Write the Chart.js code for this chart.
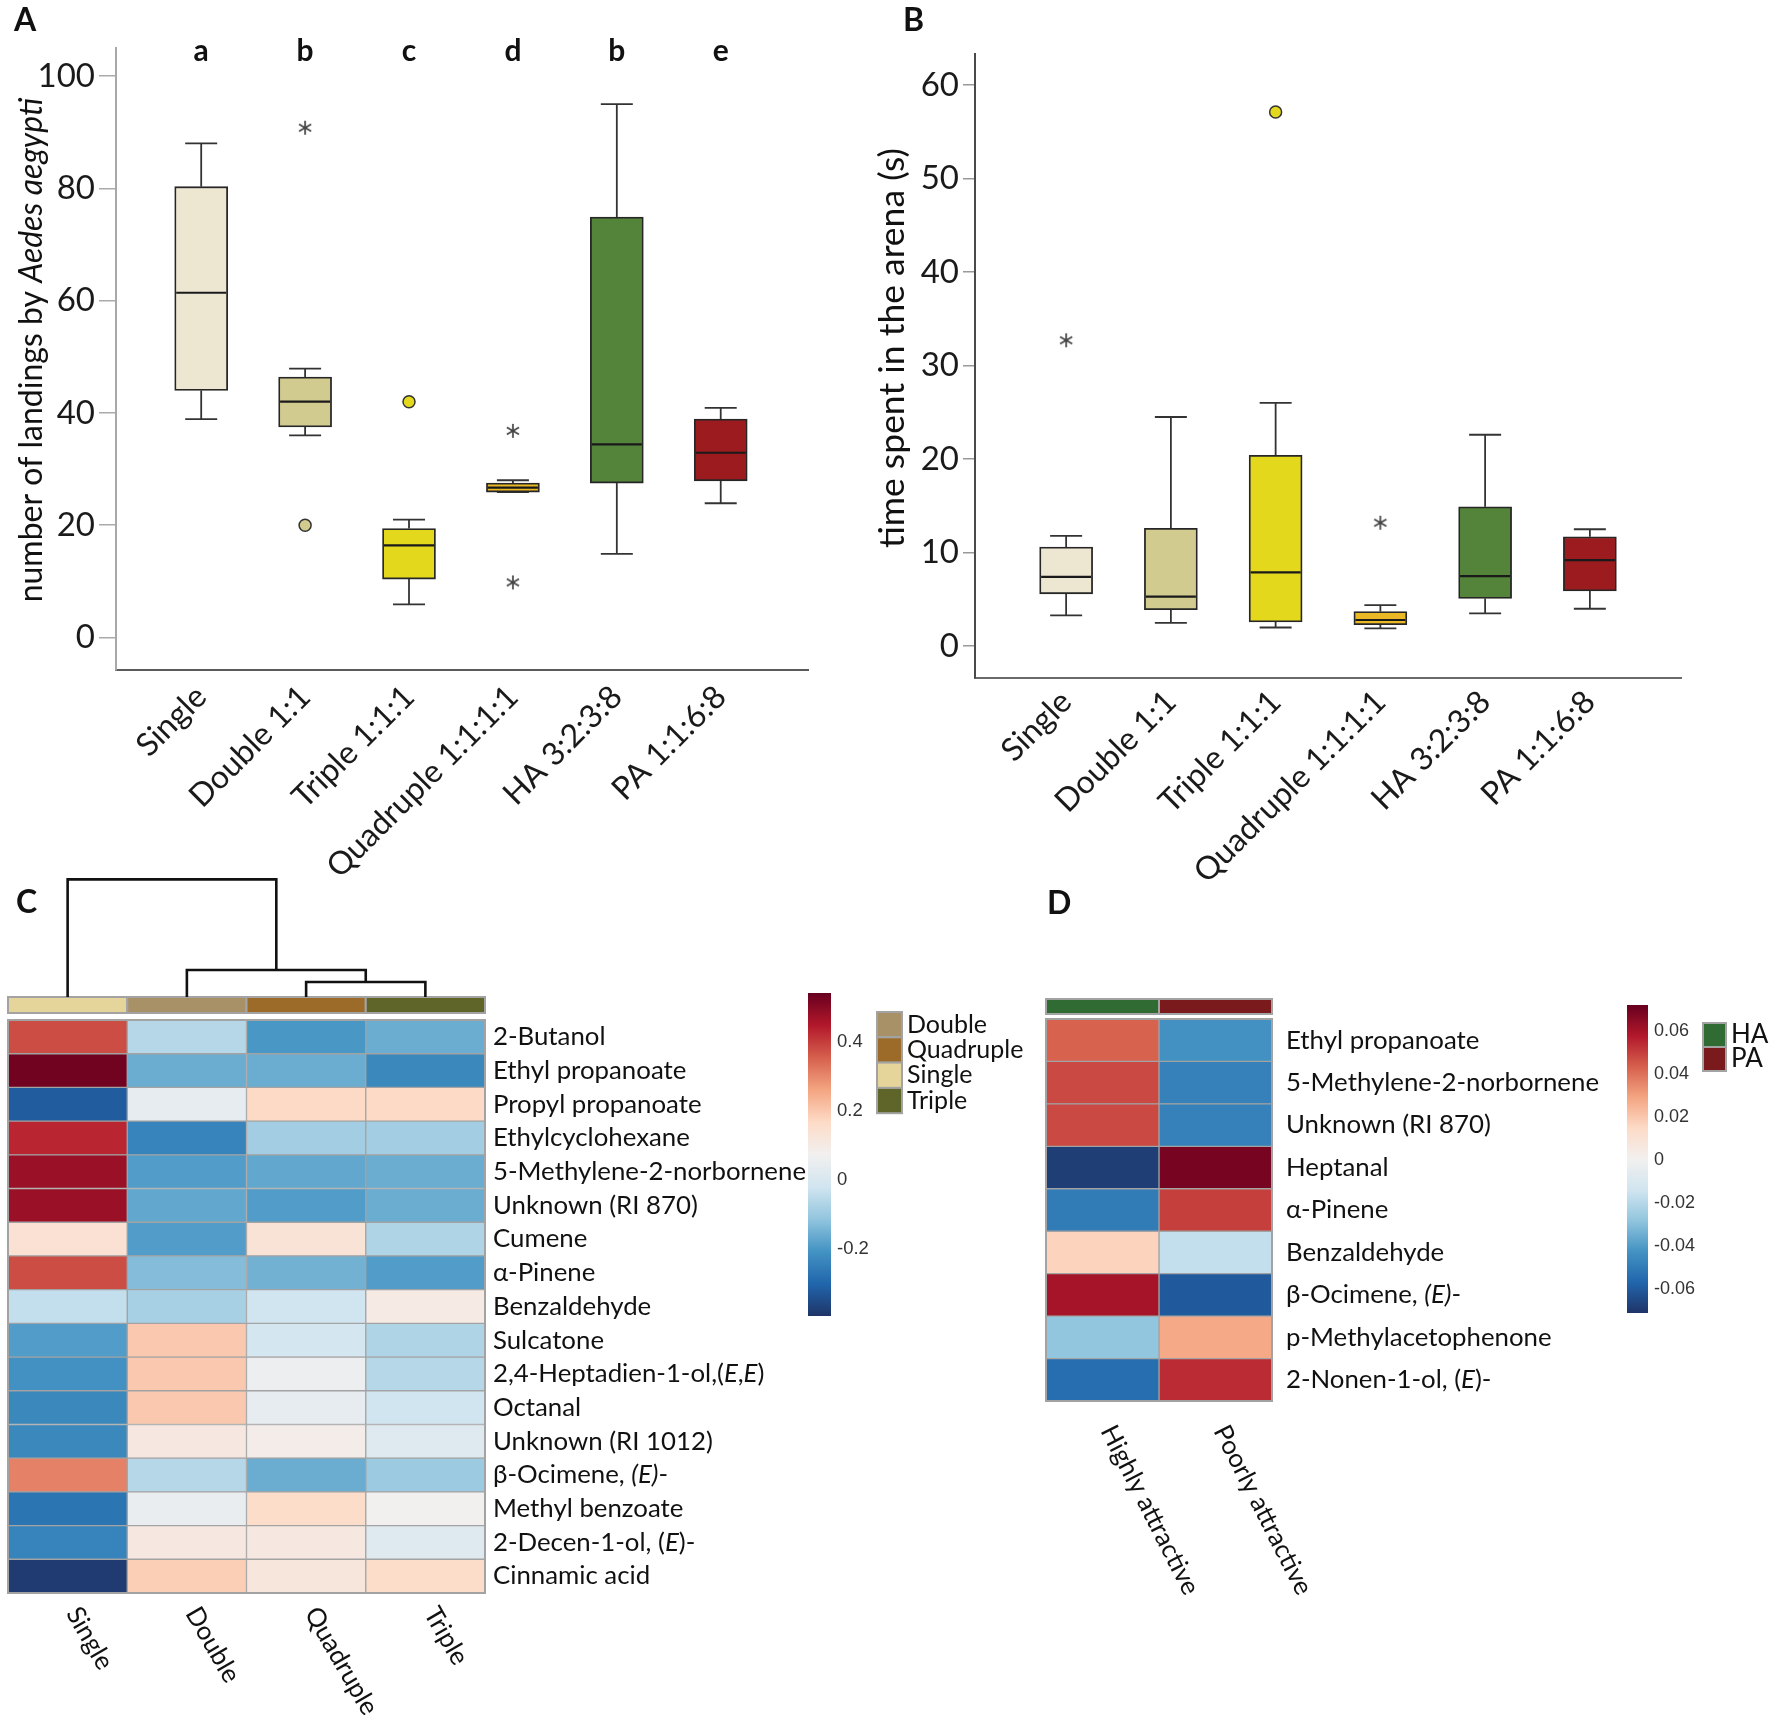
<!DOCTYPE html>
<html><head><meta charset="utf-8">
<script src="https://cdn.jsdelivr.net/npm/chart.js@4.4.1/dist/chart.umd.min.js"></script>
<style>
html,body{margin:0;padding:0;background:#fff;}
#fig{position:relative;width:1772px;height:1731px;overflow:hidden;background:#fff;}
canvas{position:absolute;}
</style></head><body>
<div id="fig">
<canvas id="cC" width="1030" height="871" style="left:0;top:860px"></canvas>
<canvas id="cD" width="742" height="871" style="left:1030px;top:860px"></canvas>
<canvas id="cA" width="886" height="940" style="left:0;top:0"></canvas>
<canvas id="cB" width="926" height="940" style="left:846px;top:0"></canvas>
<canvas id="cbC" width="80" height="363" style="left:808px;top:973px"></canvas>
<canvas id="cbD" width="80" height="348" style="left:1627px;top:985px"></canvas>
</div>
<script>
// ---------- DATA ----------
const boxCats = ['Single','Double 1:1','Triple 1:1:1','Quadruple 1:1:1:1','HA 3:2:3:8','PA 1:1:6:8'];
const boxColors = ['#ede6d0','#d1cb90','#e3d81c','#e9b824','#53843a','#9c1b1f'];
const sigLetters = ['a','b','c','d','b','e'];

// Panel A: number of landings
const landLo  = [38.9, 36.0,  5.9, 25.9, 14.9, 23.9];
const landQ1  = [44.0, 37.5, 10.4, 25.9, 27.5, 27.9];
const landMed = [61.4, 42.0, 16.4, 26.7, 34.4, 32.9];
const landQ3  = [80.3, 46.4, 19.4, 27.5, 74.9, 38.9];
const landHi  = [88.0, 47.9, 21.0, 28.0, 95.0, 40.9];
const landCircleX = [1, 2];      const landCircleY = [20.0, 42.0];
const landStarX   = [1, 3, 3];   const landStarY   = [90.8, 36.8, 9.8];
const landTicks = [0, 20, 40, 60, 80, 100];

// Panel B: time spent in the arena (s)
const timeLo  = [3.3, 2.5, 2.0, 1.9, 3.5, 4.0];
const timeQ1  = [5.6, 3.9, 2.6, 2.3, 5.1, 5.9];
const timeMed = [7.4, 5.3, 7.9, 2.8, 7.5, 9.2];
const timeQ3  = [10.6, 12.6, 20.4, 3.7, 14.9, 11.7];
const timeHi  = [11.8, 24.5, 26.0, 4.4, 22.6, 12.5];
const timeCircleX = [2];     const timeCircleY = [57.1];
const timeStarX   = [0, 3];  const timeStarY   = [32.7, 13.2];
const timeTicks = [0, 10, 20, 30, 40, 50, 60];

// Panel C heatmap
const cCols = ['Single','Double','Quadruple','Triple'];
const cColColors = ['#e6d59b','#a89166','#9c6b2a','#5f6429'];
const cRows = ['2-Butanol','Ethyl propanoate','Propyl propanoate','Ethylcyclohexane','5-Methylene-2-norbornene',
  'Unknown (RI 870)','Cumene','α-Pinene','Benzaldehyde','Sulcatone','2,4-Heptadien-1-ol,(_E_,_E_)','Octanal',
  'Unknown (RI 1012)','β-Ocimene, _(E)_-','Methyl benzoate','2-Decen-1-ol, (_E_)-','Cinnamic acid'];
const cVals = [
  [ 0.38,-0.06,-0.20,-0.16],
  [ 0.53,-0.16,-0.16,-0.23],
  [-0.32, 0.04, 0.17, 0.17],
  [ 0.43,-0.24,-0.09,-0.09],
  [ 0.48,-0.19,-0.17,-0.16],
  [ 0.48,-0.17,-0.19,-0.16],
  [ 0.14,-0.19, 0.13,-0.07],
  [ 0.38,-0.13,-0.15,-0.19],
  [-0.04,-0.08,-0.02, 0.10],
  [-0.19, 0.20,-0.01,-0.07],
  [-0.21, 0.20, 0.06,-0.06],
  [-0.23, 0.20, 0.04,-0.02],
  [-0.23, 0.11, 0.09, 0.02],
  [ 0.31,-0.06,-0.16,-0.10],
  [-0.27, 0.05, 0.16, 0.07],
  [-0.24, 0.11, 0.11, 0.02],
  [-0.38, 0.19, 0.12, 0.16]];
const cDendroH = [1.25, 2.25, 9.8];        // merge heights: (Quad,Triple), (Double,..), (Single,..)
const cLegendNames = ['Double','Quadruple','Single','Triple'];
const cLegendColors = ['#a89166','#9c6b2a','#e6d59b','#5f6429'];
const cScaleMin = -0.394, cScaleMax = 0.542;
const cBarTicks = [-0.2, 0, 0.2, 0.4];

// Panel D heatmap
const dCols = ['Highly attractive','Poorly attractive'];
const dColColors = ['#2f6b32','#7a1a1c'];
const dRows = ['Ethyl propanoate','5-Methylene-2-norbornene','Unknown (RI 870)','Heptanal','α-Pinene',
  'Benzaldehyde','β-Ocimene, _(E)_-','p-Methylacetophenone','2-Nonen-1-ol, (_E_)-'];
const dVals = [
  [ 0.043,-0.043],
  [ 0.048,-0.048],
  [ 0.048,-0.048],
  [-0.068, 0.069],
  [-0.050, 0.050],
  [ 0.017,-0.017],
  [ 0.060,-0.060],
  [-0.028, 0.028],
  [-0.054, 0.054]];
const dLegendNames = ['HA','PA'];
const dLegendColors = ['#2f6b32','#7a1a1c'];
const dScaleMin = -0.071, dScaleMax = 0.072;
const dBarTicks = [-0.06,-0.04,-0.02,0,0.02,0.04,0.06];

// ---------- HELPERS ----------
const FONT = 'Lato';
const rdbu = ['#1f3468','#2166ac','#4393c3','#92c5de','#d1e5f0','#f2f0ef','#fddbc7','#f4a582','#d6604d','#b2182b','#67001f'];
function hexRgb(h){return [parseInt(h.slice(1,3),16),parseInt(h.slice(3,5),16),parseInt(h.slice(5,7),16)];}
function heatColor(v, lo, hi){
  let t=(v-lo)/(hi-lo); t=Math.max(0,Math.min(1,t));
  const n=rdbu.length-1, f=t*n, i=Math.min(n-1,Math.floor(f)), u=f-i;
  const a=hexRgb(rdbu[i]), b=hexRgb(rdbu[i+1]);
  return 'rgb('+a.map((x,k)=>Math.round(x+(b[k]-x)*u)).join(',')+')';
}
function richWidth(ctx, text, size){
  const parts=text.split('_'); let w=0;
  parts.forEach((p,i)=>{ctx.font=(i%2?'italic ':'')+size+'px '+FONT; w+=ctx.measureText(p).width;});
  return w;
}
function drawRich(ctx, text, x, y, size, align, color){
  const parts=text.split('_');
  const total=richWidth(ctx,text,size);
  let cx = align==='center' ? x-total/2 : x;
  ctx.textAlign='left'; ctx.textBaseline='middle'; ctx.fillStyle=color||'#111';
  parts.forEach((p,i)=>{ctx.font=(i%2?'italic ':'')+size+'px '+FONT; ctx.fillText(p,cx,y); cx+=ctx.measureText(p).width;});
}
function line(ctx,x1,y1,x2,y2){ctx.beginPath();ctx.moveTo(x1,y1);ctx.lineTo(x2,y2);ctx.stroke();}
function makeAsterisk(size, color, lw){
  const c=document.createElement('canvas'); c.width=c.height=size;
  const g=c.getContext('2d'); g.strokeStyle=color; g.lineWidth=lw; g.lineCap='butt';
  const r=size/2-1, m=size/2;
  [90,30,150].forEach(a=>{const t=a*Math.PI/180; g.beginPath();
    g.moveTo(m-r*Math.cos(t), m-r*Math.sin(t)); g.lineTo(m+r*Math.cos(t), m+r*Math.sin(t)); g.stroke();});
  return c;
}
const asterisk = makeAsterisk(16, '#444', 1.7);

Chart.defaults.font.family = FONT;

// ---------- BOX PLOTS ----------
function boxPlot(id, o){
  const extras = {
    id:'boxExtras',
    beforeDatasetsDraw(ch){
      const {ctx, scales:{x,y}} = ch;
      ctx.save(); ctx.strokeStyle='#333'; ctx.lineWidth=1.8;
      boxCats.forEach((c,i)=>{
        const px=x.getPixelForValue(i);
        line(ctx,px,y.getPixelForValue(o.q3[i]),px,y.getPixelForValue(o.hi[i]));
        line(ctx,px-16,y.getPixelForValue(o.hi[i]),px+16,y.getPixelForValue(o.hi[i]));
        line(ctx,px,y.getPixelForValue(o.q1[i]),px,y.getPixelForValue(o.lo[i]));
        line(ctx,px-16,y.getPixelForValue(o.lo[i]),px+16,y.getPixelForValue(o.lo[i]));
      });
      ctx.restore();
    },
    afterDatasetsDraw(ch){
      const {ctx, scales:{x,y}} = ch;
      ctx.save(); ctx.strokeStyle='#1a1a1a'; ctx.lineWidth=2.2;
      boxCats.forEach((c,i)=>{
        const px=x.getPixelForValue(i), py=y.getPixelForValue(o.med[i]);
        line(ctx,px-25,py,px+25,py);
      });
      ctx.restore();
    },
    afterDraw(ch){
      const {ctx, scales:{x,y}} = ch;
      ctx.save();
      ctx.fillStyle='#111'; ctx.textBaseline='alphabetic'; ctx.textAlign='left';
      ctx.font='bold 32px '+FONT; ctx.fillText(o.panel, o.panelX, 31);
      if (o.letters){
        ctx.font='bold 30px '+FONT; ctx.textAlign='center';
        o.letters.forEach((l,i)=>ctx.fillText(l, x.getPixelForValue(i), y.getPixelForValue(o.letterY)));
      }
      ctx.translate(o.titleX, o.titleY); ctx.rotate(-Math.PI/2);
      drawRich(ctx, o.title, 0, 0, o.titleSize, 'center', '#111');
      ctx.restore();
    }
  };
  const cv=document.getElementById(id);
  return new Chart(cv,{
    type:'bar',
    data:{datasets:[
      {type:'bar', data:boxCats.map((c,i)=>({x:i,y:[o.q1[i],o.q3[i]]})), backgroundColor:boxColors,
       borderColor:'#262626', borderWidth:1.8, borderSkipped:false, barThickness:53, order:2},
      {type:'scatter', data:o.cx.map((xv,k)=>({x:xv,y:o.cy[k]})), pointStyle:'circle', pointRadius:6,
       pointBackgroundColor:o.cx.map(xv=>boxColors[xv]), pointBorderColor:'#333', pointBorderWidth:1.5, order:1},
      {type:'scatter', data:o.sx.map((xv,k)=>({x:xv,y:o.sy[k]})), pointStyle:asterisk, pointRadius:7, order:1}
    ]},
    options:{
      responsive:false, animation:false, devicePixelRatio:1,
      layout:{padding:{left:0, top:o.area.top, right:o.W-o.area.right, bottom:0}},
      plugins:{legend:{display:false}, tooltip:{enabled:false}},
      scales:{
        x:{type:'linear', bounds:'data', offset:false, min:o.xmin, max:o.xmax,
           afterBuildTicks:ax=>{ax.ticks=boxCats.map((c,i)=>({value:i}));},
           ticks:{autoSkip:false, minRotation:45, maxRotation:45, font:{family:FONT,size:32}, color:'#1a1a1a', padding:o.xPad,
                  callback:v=>boxCats[v]},
           grid:{display:false, drawTicks:false, offset:false},
           border:{display:true, color:o.xAxisColor, width:2},
           afterFit:s=>{s.height=o.H-o.area.bottom;}},
        y:{type:'linear', bounds:'data', min:o.ymin, max:o.ymax,
           afterBuildTicks:ax=>{ax.ticks=o.yTicks.map(v=>({value:v}));},
           ticks:{font:{family:FONT,size:33}, color:'#1a1a1a', padding:4, callback:v=>String(v)},
           grid:{display:true, drawOnChartArea:false, drawTicks:true, tickLength:o.tickLen, color:o.tickColor, lineWidth:1.5},
           border:{display:true, color:o.yAxisColor, width:2},
           afterFit:s=>{s.width=o.area.left;}}
      }
    },
    plugins:[extras]
  });
}

boxPlot('cA',{W:886,H:940, area:{left:116,right:808,top:48,bottom:670},
  xmin:-0.82, xmax:5.84, ymin:-5.8, ymax:105.0, yTicks:landTicks,
  lo:landLo,q1:landQ1,med:landMed,q3:landQ3,hi:landHi, cx:landCircleX, cy:landCircleY, sx:landStarX, sy:landStarY,
  tickLen:17, tickColor:'#aaaaaa', yAxisColor:'#a8a8a8', xAxisColor:'#5a5a5a', xPad:8,
  panel:'A', panelX:14, letters:sigLetters, letterY:102.6,
  title:'number of landings by _Aedes aegypti_', titleSize:32, titleX:32, titleY:350});

boxPlot('cB',{W:926,H:940, area:{left:129,right:835,top:54,bottom:678},
  xmin:-0.87, xmax:5.87, ymin:-3.4, ymax:63.3, yTicks:timeTicks,
  lo:timeLo,q1:timeQ1,med:timeMed,q3:timeQ3,hi:timeHi, cx:timeCircleX, cy:timeCircleY, sx:timeStarX, sy:timeStarY,
  tickLen:12, tickColor:'#999999', yAxisColor:'#4a4a4a', xAxisColor:'#6a6a6a', xPad:5,
  panel:'B', panelX:57, letters:null,
  title:'time spent in the arena (s)', titleSize:35.5, titleX:47, titleY:348});

// ---------- HEATMAPS ----------
function heatmap(id, o){
  const extras = {
    id:'heatExtras',
    afterDatasetsDraw(ch){
      const {ctx, scales:{x,y}, chartArea:a} = ch;
      ctx.save();
      ctx.strokeStyle='#a3a3a3'; ctx.lineWidth=2;
      ctx.strokeRect(a.left, a.top, a.right-a.left, a.bottom-a.top);
      // annotation bar
      o.cols.forEach((c,i)=>{
        const x0=x.getPixelForValue(i), x1=x.getPixelForValue(i+1);
        ctx.fillStyle=o.colColors[i]; ctx.fillRect(x0,o.annTop,x1-x0,o.annH);
        ctx.strokeStyle='#a3a3a3'; ctx.lineWidth=2; ctx.strokeRect(x0,o.annTop,x1-x0,o.annH);
      });
      // dendrogram
      if (o.dendro){
        ctx.strokeStyle='#111'; ctx.lineWidth=2.6;
        const base=o.annTop, k=o.dendroPx;
        const cx=i=>x.getPixelForValue(i+0.5);
        const h=o.dendro;
        const yq=base-h[0]*k, yd=base-h[1]*k, ys=base-h[2]*k;
        const nQT=(cx(2)+cx(3))/2, nD=(cx(1)+nQT)/2;
        ctx.beginPath();
        ctx.moveTo(cx(2),base); ctx.lineTo(cx(2),yq); ctx.lineTo(cx(3),yq); ctx.lineTo(cx(3),base);
        ctx.moveTo(cx(1),base); ctx.lineTo(cx(1),yd); ctx.lineTo(nQT,yd); ctx.lineTo(nQT,yq);
        ctx.moveTo(cx(0),base); ctx.lineTo(cx(0),ys); ctx.lineTo(nD,ys); ctx.lineTo(nD,yd);
        ctx.stroke();
      }
      // row labels
      o.rows.forEach((r,i)=>drawRich(ctx, r, a.right+o.labelGap, y.getPixelForValue(i), o.fs, 'left', '#111'));
      // column labels
      o.cols.forEach((c,i)=>{
        ctx.save(); ctx.translate(x.getPixelForValue(i+0.5)+o.colDx, a.bottom+o.colGap); ctx.rotate(o.colAngle*Math.PI/180);
        drawRich(ctx, c, 0, 0, o.fs, 'left', '#111'); ctx.restore();
      });
      // legend
      o.legNames.forEach((n,i)=>{
        const yy=o.leg.y+i*o.leg.h;
        ctx.fillStyle=o.legColors[i]; ctx.fillRect(o.leg.x,yy,o.leg.w,o.leg.h);
        ctx.strokeStyle='#a3a3a3'; ctx.lineWidth=2; ctx.strokeRect(o.leg.x,yy,o.leg.w,o.leg.h);
        ctx.fillStyle='#111'; ctx.font=o.leg.fs+'px '+FONT; ctx.textAlign='left'; ctx.textBaseline='middle';
        ctx.fillText(n, o.leg.x+o.leg.w+5, yy+o.leg.h/2);
      });
      ctx.font='bold 32px '+FONT; ctx.textAlign='left'; ctx.textBaseline='alphabetic'; ctx.fillStyle='#111';
      ctx.fillText(o.panel, o.panelX, o.panelY);
      ctx.restore();
    }
  };
  const cv=document.getElementById(id);
  return new Chart(cv,{
    type:'bar',
    data:{labels:o.rows, datasets:o.cols.map((c,ci)=>({
      data:o.rows.map(()=>[ci,ci+1]),
      backgroundColor:o.rows.map((r,ri)=>heatColor(o.vals[ri][ci],o.lo,o.hi)),
      borderColor:'#a3a3a3', borderWidth:1, borderSkipped:false,
      barPercentage:1, categoryPercentage:1, grouped:false}))},
    options:{
      indexAxis:'y', responsive:false, animation:false, devicePixelRatio:1,
      layout:{padding:o.pad},
      plugins:{legend:{display:false}, tooltip:{enabled:false}},
      scales:{x:{type:'linear', min:0, max:o.cols.length, display:false},
              y:{type:'category', display:false}}
    },
    plugins:[extras]
  });
}

heatmap('cC',{rows:cRows, cols:cCols, vals:cVals, colColors:cColColors, lo:cScaleMin, hi:cScaleMax,
  pad:{left:8, top:160, right:1030-485, bottom:871-733},
  annTop:137, annH:16, dendro:cDendroH, dendroPx:12,
  labelGap:8, fs:25.8, colGap:16, colDx:5, colAngle:60,
  legNames:cLegendNames, legColors:cLegendColors, leg:{x:877, y:152, w:25, h:25.3, fs:25},
  panel:'C', panelX:16, panelY:53});

heatmap('cD',{rows:dRows, cols:dCols, vals:dVals, colColors:dColColors, lo:dScaleMin, hi:dScaleMax,
  pad:{left:16, top:159, right:742-242, bottom:871-541},
  annTop:139, annH:15, dendro:null,
  labelGap:14, fs:25.8, colGap:26, colDx:5, colAngle:63,
  legNames:dLegendNames, legColors:dLegendColors, leg:{x:673, y:163, w:23, h:24, fs:26},
  panel:'D', panelX:17, panelY:54});

// ---------- COLOR BARS ----------
function colorBar(id, lo, hi, ticks, barW, fs){
  const cv=document.getElementById(id);
  return new Chart(cv,{
    type:'scatter',
    data:{datasets:[{data:[]}]},
    options:{
      responsive:false, animation:false, devicePixelRatio:1,
      layout:{padding:{top:20,bottom:20,left:0,right:0}},
      plugins:{legend:{display:false}, tooltip:{enabled:false}},
      scales:{
        x:{type:'linear', display:false},
        y:{type:'linear', position:'right', bounds:'data', min:lo, max:hi,
           afterBuildTicks:ax=>{ax.ticks=ticks.map(v=>({value:v}));},
           ticks:{font:{family:'Liberation Sans', size:fs}, color:'#333', padding:6, callback:v=>String(v)},
           grid:{display:false, drawTicks:false}, border:{display:false},
           afterFit:s=>{s.width=cv.width-barW;}}
      }
    },
    plugins:[{id:'grad', beforeDatasetsDraw(ch){
      const {ctx, chartArea:a, scales:{y}} = ch;
      const g=ctx.createLinearGradient(0,y.getPixelForValue(lo),0,y.getPixelForValue(hi));
      rdbu.forEach((c,i)=>g.addColorStop(i/(rdbu.length-1),c));
      ctx.fillStyle=g; ctx.fillRect(a.left,a.top,a.right-a.left,a.bottom-a.top);
    }}]
  });
}
colorBar('cbC', cScaleMin, cScaleMax, cBarTicks, 23, 18.5);
colorBar('cbD', dScaleMin, dScaleMax, dBarTicks, 21, 18);
</script>
</body></html>
